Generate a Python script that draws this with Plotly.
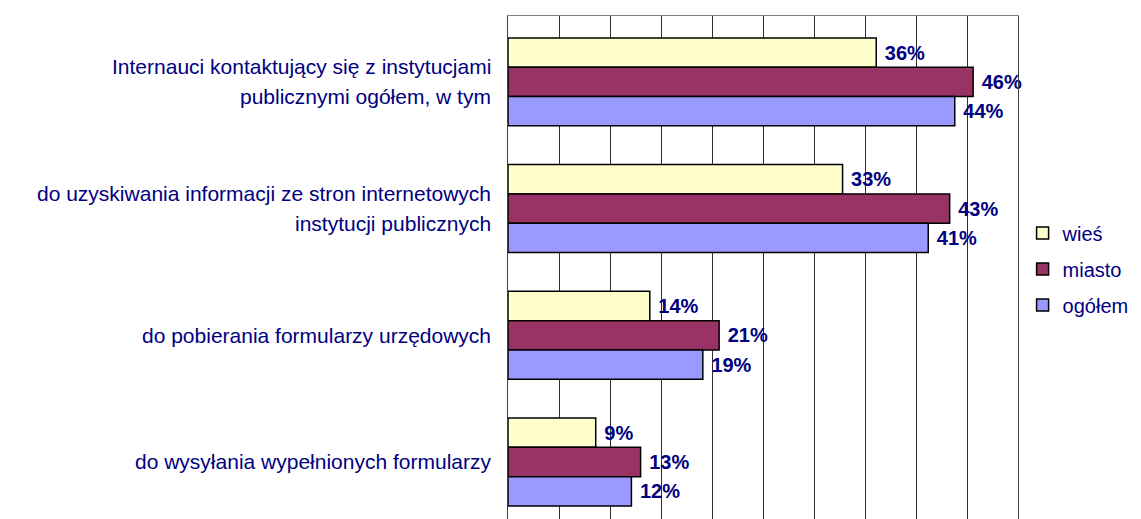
import plotly.graph_objects as go

# Kategorie (od góry)
categories = [
    "Internauci kontaktujący się z instytucjami\npublicznymi ogółem, w tym",
    "do uzyskiwania informacji ze stron internetowych\ninstytucji publicznych",
    "do pobierania formularzy urzędowych",
    "do wysyłania wypełnionych formularzy",
]

# Wartości w %
wies = [36.1, 32.8, 13.9, 8.6]
miasto = [45.6, 43.3, 20.7, 13.0]
ogolem = [43.8, 41.2, 19.1, 12.1]

series_names = ["wieś", "miasto", "ogółem"]
series_colors = ["#FFFFCC", "#993366", "#9999FF"]

NAVY = "#000080"
FONT = "Arial, Liberation Sans, sans-serif"

fig = go.Figure()
for name, vals, col in zip(series_names, [wies, miasto, ogolem], series_colors):
    fig.add_trace(go.Bar(
        y=categories, x=vals, name=name, orientation="h",
        marker=dict(color=col, line=dict(color="black", width=1.5)),
        text=[f" {round(v)}%" for v in vals],
        textposition="outside", constraintext="none", cliponaxis=False,
        textfont=dict(family=FONT, size=20, color=NAVY, weight="bold"),
        legendgroup=name,
    ))

# Etykiety kategorii jako adnotacje (wyśrodkowane linie)
for cat in categories:
    lines = cat.split("\n")
    n = len(lines)
    for j, line in enumerate(lines):
        fig.add_annotation(
            x=0, xref="paper", xanchor="right", xshift=-15,
            y=cat, yref="y", yshift=((n - 1) / 2 - j) * 30,
            text=line, showarrow=False,
            font=dict(family=FONT, size=21, color=NAVY),
        )

fig.update_layout(
    width=1133, height=511,
    margin=dict(l=500, r=123, t=8, b=0),
    plot_bgcolor="white", paper_bgcolor="white",
    barmode="group", bargap=0.306, bargroupgap=0,
    font=dict(family=FONT, color=NAVY),
    legend=dict(
        x=1.009, xanchor="left", y=0.497, yanchor="middle",
        font=dict(family=FONT, size=20, color=NAVY),
        tracegroupgap=7, traceorder="grouped",
    ),
    xaxis=dict(
        range=[0, 50], dtick=5, showgrid=True, gridcolor="#303030", gridwidth=1,
        showticklabels=False, ticks="", zeroline=False,
        showline=True, mirror=True, linecolor="#808080", linewidth=1,
    ),
    yaxis=dict(
        range=[3.45, -0.52], showticklabels=False, ticks="", showgrid=False,
        showline=True, mirror=True, linecolor="#404040", linewidth=1,
    ),
)

fig.write_html("out.html")
